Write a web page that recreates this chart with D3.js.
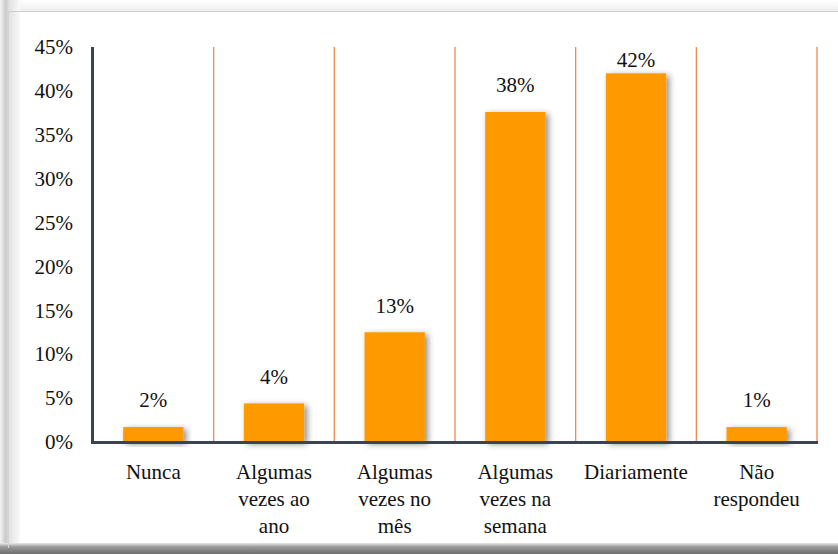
<!DOCTYPE html>
<html><head><meta charset="utf-8">
<script src="https://cdn.jsdelivr.net/npm/d3@7"></script>
<style>html,body{margin:0;padding:0;background:#fff;}svg{display:block;}
text{font-family:'Times New Roman';}</style>
</head><body>
<svg id="c" width="838" height="554" font-family="Times New Roman"></svg>
<script>
const categories = [["Nunca"],["Algumas","vezes ao","ano"],["Algumas","vezes no","mês"],["Algumas","vezes na","semana"],["Diariamente"],["Não","respondeu"]];
const values = [1.7, 4.4, 12.5, 37.6, 42.0, 1.7];
const valueLabels = ["2%","4%","13%","38%","42%","1%"];
const yTicks = [0,5,10,15,20,25,30,35,40,45];

(function(){
const svg = d3.select("#c");
const W = 838, H = 554;
const defs = svg.append("defs");
const lg = defs.append("linearGradient").attr("id","lb").attr("x1","0").attr("x2","1");
lg.append("stop").attr("offset","0").attr("stop-color","#f4f4f4");
lg.append("stop").attr("offset","0.3").attr("stop-color","#c8c8c8");
lg.append("stop").attr("offset","0.45").attr("stop-color","#e2e2e2");
lg.append("stop").attr("offset","1").attr("stop-color","#fafafa");
const bg = defs.append("linearGradient").attr("id","bb").attr("x1","0").attr("x2","0").attr("y1","0").attr("y2","1");
bg.append("stop").attr("offset","0").attr("stop-color","#e8e8e8");
bg.append("stop").attr("offset","0.35").attr("stop-color","#9a9a9a");
bg.append("stop").attr("offset","1").attr("stop-color","#6e6e6e");
const tg = defs.append("linearGradient").attr("id","tb").attr("x1","0").attr("x2","0").attr("y1","0").attr("y2","1");
tg.append("stop").attr("offset","0").attr("stop-color","#ffffff");
tg.append("stop").attr("offset","1").attr("stop-color","#ececec");
const f = defs.append("filter").attr("id","sh").attr("x","-20%").attr("y","-20%").attr("width","150%").attr("height","150%");
f.append("feDropShadow").attr("dx",3).attr("dy",2).attr("stdDeviation",3).attr("flood-color","#000").attr("flood-opacity",0.45);

// frame
svg.append("rect").attr("x",0).attr("y",0).attr("width",W).attr("height",H).attr("fill","#fff");
svg.append("rect").attr("x",0).attr("y",0).attr("width",W).attr("height",12).attr("fill","url(#tb)");
svg.append("rect").attr("x",0).attr("y",0).attr("width",20).attr("height",H).attr("fill","url(#lb)");
svg.append("rect").attr("x",0).attr("y",543).attr("width",W).attr("height",11).attr("fill","url(#bb)");
svg.append("line").attr("x1",8).attr("x2",W).attr("y1",11.5).attr("y2",11.5).attr("stroke","#cfcfcf").attr("stroke-width",1);
svg.append("line").attr("x1",8.5).attr("x2",8.5).attr("y1",11).attr("y2",548).attr("stroke","#d4d4d4").attr("stroke-width",1);

const pLeft = 93, pRight = 817, pTop = 47, pBottom = 442;
const x = d3.scaleBand().domain(d3.range(categories.length)).range([pLeft, pRight]).paddingInner(0).paddingOuter(0);
const y = d3.scaleLinear().domain([0,45]).range([pBottom, pTop]);

// gridlines at category boundaries
const g = svg.append("g");
g.selectAll("line.grid").data(d3.range(1, categories.length+1)).join("line")
  .attr("x1", i => x.step()*i + pLeft).attr("x2", i => x.step()*i + pLeft)
  .attr("y1", pTop).attr("y2", pBottom)
  .attr("stroke", "#f08a4b").attr("stroke-width", 1.3);

// bars
const bw = x.bandwidth()*0.5;
g.selectAll("rect.bar").data(values).join("rect")
  .attr("x", (d,i) => x(i) + (x.bandwidth()-bw)/2)
  .attr("width", bw)
  .attr("y", d => y(d))
  .attr("height", d => y(0) - y(d))
  .attr("fill", "#ff9900")
  .attr("filter", "url(#sh)");

// value labels
g.selectAll("text.val").data(values).join("text")
  .attr("x", (d,i) => x(i) + x.bandwidth()/2)
  .attr("y", d => Math.max(y(d) - 27, 60))
  .attr("dy", "0.35em")
  .attr("text-anchor", "middle")
  .attr("font-size", 21).attr("fill", "#111")
  .text((d,i) => valueLabels[i]);

// y axis
const ya = d3.axisLeft(y).tickValues(yTicks).tickSize(0).tickPadding(20).tickFormat(d => d + "%");
const yg = svg.append("g").attr("transform", `translate(${pLeft},0)`).call(ya);
yg.attr("font-family", null).attr("font-size", 21);
yg.select(".domain").remove();
yg.selectAll("text").attr("fill","#111");

// axis lines
svg.append("line").attr("x1",92.5).attr("x2",92.5).attr("y1",pTop).attr("y2",pBottom+2).attr("stroke","#3b4454").attr("stroke-width",3);
svg.append("line").attr("x1",91).attr("x2",pRight+1).attr("y1",pBottom+0.5).attr("y2",pBottom+0.5).attr("stroke","#3b4454").attr("stroke-width",3);

// category labels
const cl = svg.append("g");
categories.forEach((lines, i) => {
  const t = cl.append("text")
    .attr("x", x(i) + x.bandwidth()/2)
    .attr("y", 479)
    .attr("text-anchor","middle")
    .attr("font-size",21).attr("fill","#111");
  lines.forEach((ln, k) => {
    t.append("tspan").attr("x", x(i) + x.bandwidth()/2).attr("y", 479 + k*27).text(ln);
  });
});
})();
</script>
</body></html>
